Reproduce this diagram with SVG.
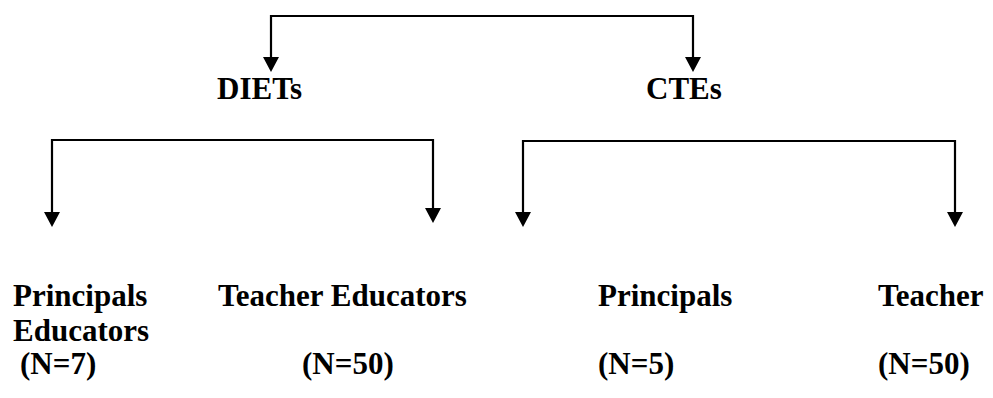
<svg xmlns="http://www.w3.org/2000/svg" width="993" height="398" viewBox="0 0 993 398">
  <style>
    text { font-family: 'Liberation Serif', 'DejaVu Serif', serif; font-weight: 700; font-size: 31px; fill: #000; }
    .conn { fill: none; stroke: #000; stroke-width: 2.2; }
  </style>
  <defs>
    <marker id="arrow" markerUnits="userSpaceOnUse" markerWidth="16" markerHeight="16" refX="0" refY="8" orient="auto">
      <path d="M0,0 L15,8 L0,16 z" fill="#000"/>
    </marker>
  </defs>
  <rect width="993" height="398" fill="#fff"/>

  <g id="connectors">
    <path class="conn" d="M482,16 H271 V57" marker-end="url(#arrow)"/>
    <path class="conn" d="M482,16 H693 V57" marker-end="url(#arrow)"/>
    <path class="conn" d="M242,140 H52 V212" marker-end="url(#arrow)"/>
    <path class="conn" d="M242,140 H433 V208" marker-end="url(#arrow)"/>
    <path class="conn" d="M739,141 H523 V212" marker-end="url(#arrow)"/>
    <path class="conn" d="M739,141 H955 V212" marker-end="url(#arrow)"/>
  </g>

  <g id="diets" font-family="Liberation Serif, serif">
    <text x="217" y="99">DIETs</text>
  </g>
  <g id="ctes">
    <text x="646" y="99">CTEs</text>
  </g>

  <g id="diet-principals">
    <text x="13" y="306">Principals</text>
    <text x="13" y="341">Educators</text>
    <text x="20" y="374">(N=7)</text>
  </g>
  <g id="diet-teacher-educators">
    <text x="218" y="306">Teacher Educators</text>
    <text x="302" y="374">(N=50)</text>
  </g>
  <g id="cte-principals">
    <text x="598" y="306">Principals</text>
    <text x="598" y="374">(N=5)</text>
  </g>
  <g id="cte-teacher">
    <text x="878" y="306">Teacher</text>
    <text x="878" y="374">(N=50)</text>
  </g>
</svg>
